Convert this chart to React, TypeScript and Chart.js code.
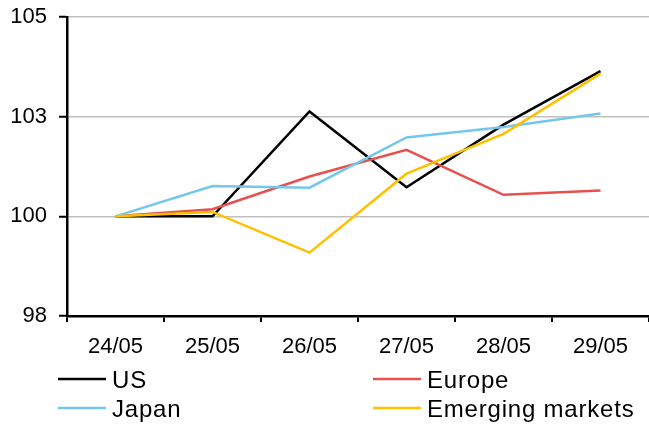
import React, { useEffect, useRef } from "react";
import { Chart, registerables } from "chart.js";

Chart.register(...registerables);

const categories = ["24/05", "25/05", "26/05", "27/05", "28/05", "29/05"];
const usValues = [100, 100, 102.63, 100.73, 102.3, 103.64];
const europeValues = [100, 100.18, 101.0, 101.67, 100.54, 100.65];
const japanValues = [100, 100.76, 100.72, 101.98, 102.24, 102.58];
const emValues = [100, 100.11, 99.09, 101.07, 102.07, 103.58];
const seriesNames = ["US", "Europe", "Japan", "Emerging markets"];
const yTickValues = [97.5, 100, 102.5, 105];
const yTickLabels = ["98", "100", "103", "105"];

const FONT = "'Liberation Sans', Arial, sans-serif";

const legendPlugin = {
  id: "gridLegend",
  afterDraw(chart: any) {
    const ctx = chart.ctx;
    const cols = [58, 373];
    const rows = [379, 408];
    const order = [
      [0, 0],
      [1, 0],
      [0, 1],
      [1, 1],
    ];
    ctx.save();
    chart.data.datasets.forEach((ds: any, i: number) => {
      const [c, r] = order[i];
      const x = cols[c];
      const y = rows[r];
      ctx.strokeStyle = ds.borderColor;
      ctx.lineWidth = 2.5;
      ctx.beginPath();
      ctx.moveTo(x, y);
      ctx.lineTo(x + 48, y);
      ctx.stroke();
      ctx.fillStyle = "#000";
      ctx.font = `24px ${FONT}`;
      (ctx as any).letterSpacing = "0.8px";
      ctx.textAlign = "left";
      ctx.textBaseline = "alphabetic";
      ctx.fillText(ds.label, x + 54, y + 9);
    });
    ctx.restore();
  },
};

export default function App() {
  const ref = useRef<HTMLCanvasElement>(null);
  useEffect(() => {
    if (!ref.current) return;
    const colors = ["#000000", "#E8504E", "#74C7EC", "#FFC000"];
    const values = [usValues, europeValues, japanValues, emValues];
    const chart = new Chart(ref.current, {
      type: "line",
      data: {
        labels: categories,
        datasets: values.map((v, i) => ({
          label: seriesNames[i],
          data: v,
          borderColor: colors[i],
          backgroundColor: colors[i],
          borderWidth: 2.5,
          pointRadius: 0,
          tension: 0,
          fill: false,
          order: 4 - i,
        })),
      },
      options: {
        responsive: false,
        animation: false,
        layout: { padding: { top: 17, left: 0, right: 0, bottom: 0 } },
        plugins: { legend: { display: false }, tooltip: { enabled: false } },
        scales: {
          x: {
            offset: true,
            grid: {
              offset: true,
              drawOnChartArea: false,
              color: "#000",
              tickColor: "#000",
              tickLength: 6,
              lineWidth: 2,
            },
            border: { color: "#000", width: 2.5 },
            ticks: {
              color: "#000",
              font: { family: FONT, size: 22 },
              padding: 12,
              maxRotation: 0,
              autoSkip: false,
            },
            afterFit(scale: any) {
              scale.height = 110;
              scale.paddingLeft = 0;
              scale.paddingRight = 0;
            },
          },
          y: {
            min: 97.5,
            max: 105,
            grid: {
              color: "#C0C0C0",
              lineWidth: 1.5,
              tickColor: "#000",
              tickLength: 8,
              tickWidth: 2,
            },
            border: { color: "#000", width: 2.5 },
            afterBuildTicks(scale: any) {
              scale.ticks = yTickValues.map((v) => ({ value: v }));
            },
            ticks: {
              color: "#000",
              font: { family: FONT, size: 22 },
              padding: 12,
              callback(value: any) {
                const idx = yTickValues.indexOf(Number(value));
                return idx >= 0 ? yTickLabels[idx] : "";
              },
            },
            afterFit(scale: any) {
              scale.width = 67;
              scale.paddingTop = 0;
              scale.paddingBottom = 0;
            },
          },
        },
      },
      plugins: [legendPlugin],
    });
    return () => chart.destroy();
  }, []);
  return (
    <div style={{ position: "fixed", left: 0, top: 0, width: 649, height: 426, background: "#fff" }}>
      <canvas ref={ref} width={649} height={426} />
    </div>
  );
}
